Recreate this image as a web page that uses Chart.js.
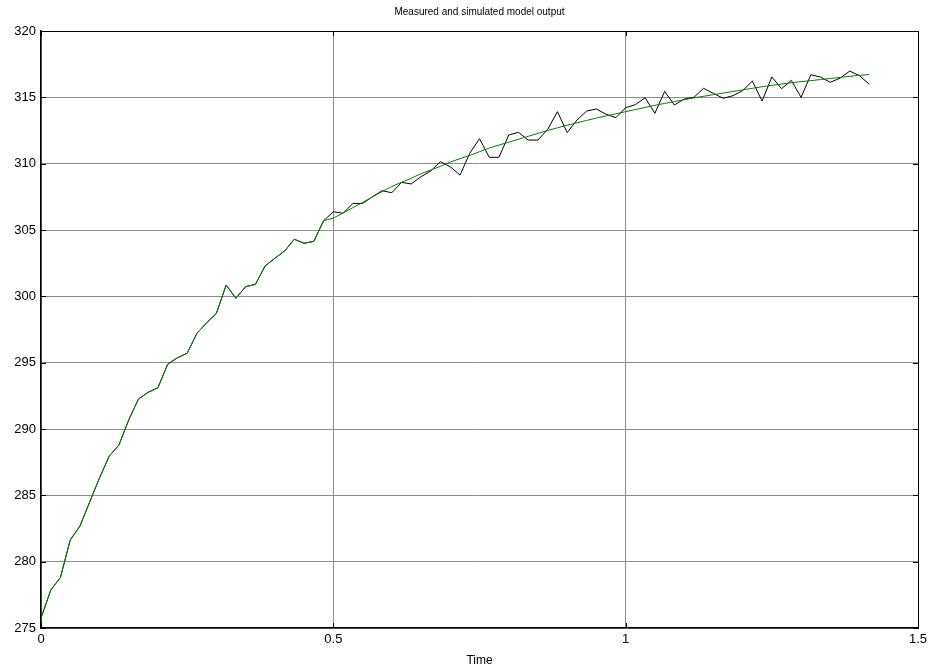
<!DOCTYPE html>
<html>
<head>
<meta charset="utf-8">
<title>Measured and simulated model output</title>
<script src="https://cdn.jsdelivr.net/npm/chart.js@4.4.0/dist/chart.umd.min.js"></script>
<style>
  html, body { margin: 0; padding: 0; background: #fff; }
  #wrap { width: 933px; height: 671px; }
</style>
</head>
<body>
<div id="wrap"><canvas id="outputChart"></canvas></div>
<script>
// sample times (s)
const timeS = [
  0, 0.0167, 0.0333, 0.05, 0.0667, 0.0833, 0.1, 0.1167, 0.1333, 0.15,
  0.1667, 0.1833, 0.2, 0.2167, 0.2333, 0.25, 0.2667, 0.2833, 0.3, 0.3167,
  0.3333, 0.35, 0.3667, 0.3833, 0.4, 0.4167, 0.4333, 0.45, 0.4667, 0.4833,
  0.5, 0.5167, 0.5333, 0.55, 0.5667, 0.5833, 0.6, 0.6167, 0.6333, 0.65,
  0.6667, 0.6833, 0.7, 0.7167, 0.7333, 0.75, 0.7667, 0.7833, 0.8, 0.8167,
  0.8333, 0.85, 0.8667, 0.8833, 0.9, 0.9167, 0.9333, 0.95, 0.9667, 0.9833,
  1, 1.0167, 1.0333, 1.05, 1.0667, 1.0833, 1.1, 1.1167, 1.1333, 1.15,
  1.1667, 1.1833, 1.2, 1.2167, 1.2333, 1.25, 1.2667, 1.2833, 1.3, 1.3167,
  1.3333, 1.35, 1.3667, 1.3833, 1.4, 1.4167
];

// measured output
const measured = [
  275.75, 277.86, 278.82, 281.63, 282.69, 284.5, 286.3, 287.96, 288.79, 290.68,
  292.26, 292.77, 293.11, 294.88, 295.37, 295.71, 297.21, 298.0, 298.72, 300.85,
  299.85, 300.73, 300.9, 302.29, 302.87, 303.42, 304.3, 304.0, 304.15, 305.7,
  306.38, 306.26, 307.0, 307.0, 307.5, 307.96, 307.81, 308.59, 308.47, 309.02,
  309.45, 310.15, 309.77, 309.14, 310.78, 311.88, 310.48, 310.48, 312.16, 312.36,
  311.78, 311.78, 312.59, 313.92, 312.34, 313.29, 313.97, 314.12, 313.72, 313.47,
  314.22, 314.45, 314.97, 313.8, 315.45, 314.42, 314.87, 315.0, 315.68, 315.3,
  314.93, 315.12, 315.5, 316.23, 314.72, 316.53, 315.65, 316.28, 315.0, 316.7,
  316.53, 316.13, 316.45, 316.98, 316.63, 315.98
];

// simulated model output
const simulated = [
  275.75, 277.86, 278.82, 281.63, 282.69, 284.5, 286.3, 287.96, 288.79, 290.68,
  292.26, 292.77, 293.11, 294.88, 295.37, 295.71, 297.21, 298.0, 298.72, 300.85,
  299.85, 300.73, 300.9, 302.29, 302.87, 303.42, 304.3, 304.0, 304.15, 305.7,
  305.9, 306.28, 306.68, 307.08, 307.48, 307.9, 308.28, 308.6, 308.9, 309.25,
  309.52, 309.8, 310.12, 310.38, 310.62, 310.9, 311.18, 311.4, 311.62, 311.84,
  312.06, 312.28, 312.5, 312.7, 312.9, 313.08, 313.26, 313.44, 313.6, 313.76,
  313.92, 314.08, 314.24, 314.4, 314.54, 314.68, 314.82, 314.96, 315.08, 315.2,
  315.32, 315.44, 315.56, 315.68, 315.8, 315.9, 316.0, 316.1, 316.18, 316.26,
  316.34, 316.42, 316.5, 316.58, 316.66, 316.72
];

const xTicks = [0, 0.5, 1, 1.5];
const yTicks = [275, 280, 285, 290, 295, 300, 305, 310, 315, 320];

const toPoints = ys => ys.map((y, i) => ({ x: timeS[i], y }));
const fixTicks = list => scale => { scale.ticks = list.map(v => ({ value: v })); };

const FONT = 'Liberation Sans, Arial, sans-serif';
const GRID = '#8c8c8c';

// small inward tick marks on all four sides of the box
const innerTicks = {
  id: 'innerTicks',
  afterDatasetsDraw(chart) {
    const { ctx, chartArea: a, scales } = chart;
    ctx.save();
    ctx.strokeStyle = '#000';
    ctx.lineWidth = 1;
    ctx.beginPath();
    scales.x.ticks.forEach(t => {
      const px = Math.round(scales.x.getPixelForValue(t.value)) + 0.5;
      ctx.moveTo(px, a.bottom); ctx.lineTo(px, a.bottom - 5);
      ctx.moveTo(px, a.top); ctx.lineTo(px, a.top + 5);
    });
    scales.y.ticks.forEach(t => {
      const py = Math.round(scales.y.getPixelForValue(t.value)) + 0.5;
      ctx.moveTo(a.left, py); ctx.lineTo(a.left + 5, py);
      ctx.moveTo(a.right, py); ctx.lineTo(a.right - 5, py);
    });
    ctx.stroke();
    ctx.restore();
  }
};

const edgeAxis = (position, size) => ({
  type: 'linear',
  position,
  min: position === 'top' ? 0 : 275,
  max: position === 'top' ? 1.5 : 320,
  ticks: { display: false },
  grid: { drawOnChartArea: false, drawTicks: false },
  border: { display: true, color: '#000', width: 1 },
  afterFit: s => { if (position === 'top') s.height = size; else s.width = size; }
});

const topAxis = edgeAxis('top', 31);
topAxis.title = {
  display: true,
  text: 'Measured and simulated model output',
  color: '#000',
  font: { family: FONT, size: 10 },
  padding: { top: 6, bottom: 0 }
};

new Chart(document.getElementById('outputChart'), {
  type: 'line',
  data: {
    datasets: [
      { label: 'Simulated', data: toPoints(simulated), borderColor: '#008000', borderWidth: 1,
        pointRadius: 0, tension: 0, order: 0 },
      { label: 'Measured', data: toPoints(measured), borderColor: '#000', borderWidth: 1,
        pointRadius: 0, tension: 0, order: 1 }
    ]
  },
  options: {
    responsive: true,
    maintainAspectRatio: false,
    animation: false,
    layout: { padding: 0 },
    plugins: { legend: { display: false }, tooltip: { enabled: false } },
    scales: {
      x: {
        type: 'linear', position: 'bottom', min: 0, max: 1.5,
        afterBuildTicks: fixTicks(xTicks),
        ticks: { color: '#000', font: { family: FONT, size: 13 }, padding: 4, maxRotation: 0,
                 callback: v => String(v) },
        grid: { color: GRID, lineWidth: 1, drawTicks: false },
        border: { display: true, color: '#000', width: 1.5 },
        title: { display: true, text: 'Time', color: '#000', font: { family: FONT, size: 12 }, padding: { top: 0, bottom: 3 } },
        afterFit: s => { s.height = 43; }
      },
      xTop: topAxis,
      y: {
        type: 'linear', position: 'left', min: 275, max: 320,
        afterBuildTicks: fixTicks(yTicks),
        ticks: { color: '#000', font: { family: FONT, size: 13 }, padding: 5, callback: v => String(v) },
        grid: { color: GRID, lineWidth: 1, drawTicks: false },
        border: { display: true, color: '#000', width: 1.5 },
        afterFit: s => { s.width = 41; }
      },
      yRight: edgeAxis('right', 15)
    }
  },
  plugins: [innerTicks]
});
</script>
</body>
</html>
